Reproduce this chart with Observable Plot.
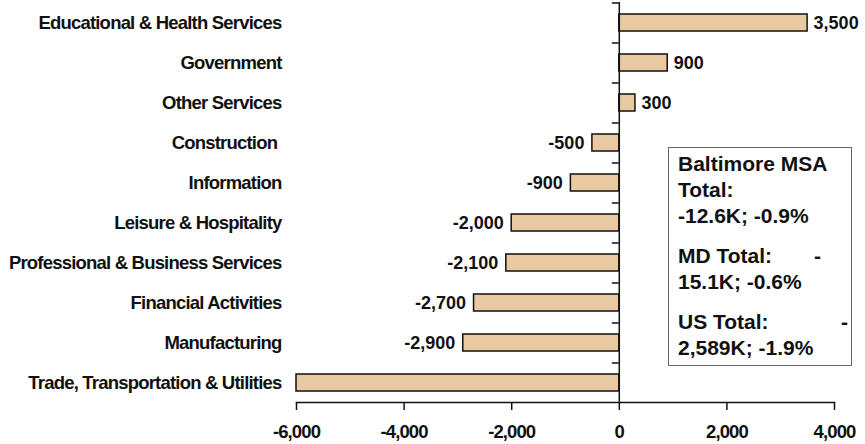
<!DOCTYPE html>
<html>
<head>
<meta charset="utf-8">
<script src="https://cdn.jsdelivr.net/npm/d3@7"></script>
<script src="https://cdn.jsdelivr.net/npm/@observablehq/plot@0.6"></script>
<style>
  html, body { margin: 0; padding: 0; background: white; }
  #wrap { position: relative; width: 865px; height: 444px; font-family: "Liberation Sans", Arial, sans-serif; }
  #wrap svg g[aria-label="y-axis tick label"] text { letter-spacing: -0.8px; }
  #wrap svg g[aria-label="x-axis tick label"] text { letter-spacing: -0.9px; }
  #box { position: absolute; left: 668px; top: 147px; width: 182px; height: 217px;
         border: 1.5px solid #666; box-sizing: content-box; padding: 0;
         font-weight: bold; font-size: 21px; line-height: 26px; color: #111; }
  #box .line { margin-left: 9px; white-space: pre; }
  #box .grp { margin-top: 14px; }
  #box .flex { display: flex; justify-content: space-between; }
</style>
</head>
<body>
<div id="wrap"></div>
<script>
const categories = [
  "Educational & Health Services",
  "Government",
  "Other Services",
  "Construction\u00a0",
  "Information",
  "Leisure & Hospitality",
  "Professional & Business Services",
  "Financial Activities",
  "Manufacturing",
  "Trade, Transportation & Utilities"
];
const values = [3500, 900, 300, -500, -900, -2000, -2100, -2700, -2900, -6000];
const valueLabels = ["3,500", "900", "300", "-500", "-900", "-2,000", "-2,100", "-2,700", "-2,900", ""];
const xTicks = [-6000, -4000, -2000, 0, 2000, 4000];
const boxLines = ["Baltimore MSA", "Total:", "-12.6K; -0.9%", "MD Total:", "15.1K; -0.6%", "US Total:", "2,589K; -1.9%"];

const data = categories.map((c, i) => ({cat: c, value: values[i], label: valueLabels[i]}));
const pos = data.filter(d => d.value >= 0);
const neg = data.filter(d => d.value < 0);

const chart = Plot.plot({
  width: 865,
  height: 444,
  marginLeft: 296,
  marginRight: 31,
  marginTop: 2,
  marginBottom: 42,
  style: {fontFamily: "'Liberation Sans', Arial, sans-serif", background: "white", color: "#111"},
  x: {domain: [-6000, 4000], ticks: xTicks, tickFormat: d => d.toLocaleString("en-US"), label: null},
  y: {domain: categories, paddingInner: 0.58, paddingOuter: 0.29, label: null},
  marks: [
    Plot.barX(data, {x: "value", y: "cat", fill: "#E8C9A2", stroke: "#111", strokeWidth: 1.5}),
    Plot.text(pos, {x: "value", y: "cat", text: "label", textAnchor: "start", dx: 6, fontSize: 18, fontWeight: "bold", fill: "#111"}),
    Plot.text(neg, {x: "value", y: "cat", text: "label", textAnchor: "end", dx: -8, fontSize: 18, fontWeight: "bold", fill: "#111"}),
    Plot.ruleX([0], {stroke: "#111", strokeWidth: 1.5}),
    Plot.ruleY(categories, {y: d => d, x1: -130, x2: 0, dy: -20, stroke: "#111", strokeWidth: 1.5}),
    Plot.frame({anchor: "bottom", stroke: "#111", strokeWidth: 1.5}),
    Plot.axisX({ticks: xTicks, tickFormat: d => d.toLocaleString("en-US"), tickSize: 8, tickPadding: 14, fontSize: 18.5, fontWeight: "bold", strokeWidth: 1.5, label: null}),
    Plot.axisY({tickSize: 0, tickPadding: 15, fontSize: 18.5, fontWeight: "bold", label: null})
  ]
});
const wrap = document.getElementById("wrap");
wrap.appendChild(chart);

const box = document.createElement("div");
box.id = "box";
box.innerHTML = `
  <div class="line" style="margin-top:3px">${boxLines[0]}</div>
  <div class="line">${boxLines[1]}</div>
  <div class="line">${boxLines[2]}</div>
  <div class="line grp flex" style="width:143px"><span>${boxLines[3]}</span><span>-</span></div>
  <div class="line">${boxLines[4]}</div>
  <div class="line grp flex" style="width:170px"><span>${boxLines[5]}</span><span>-</span></div>
  <div class="line">${boxLines[6]}</div>`;
wrap.appendChild(box);
</script>
</body>
</html>
